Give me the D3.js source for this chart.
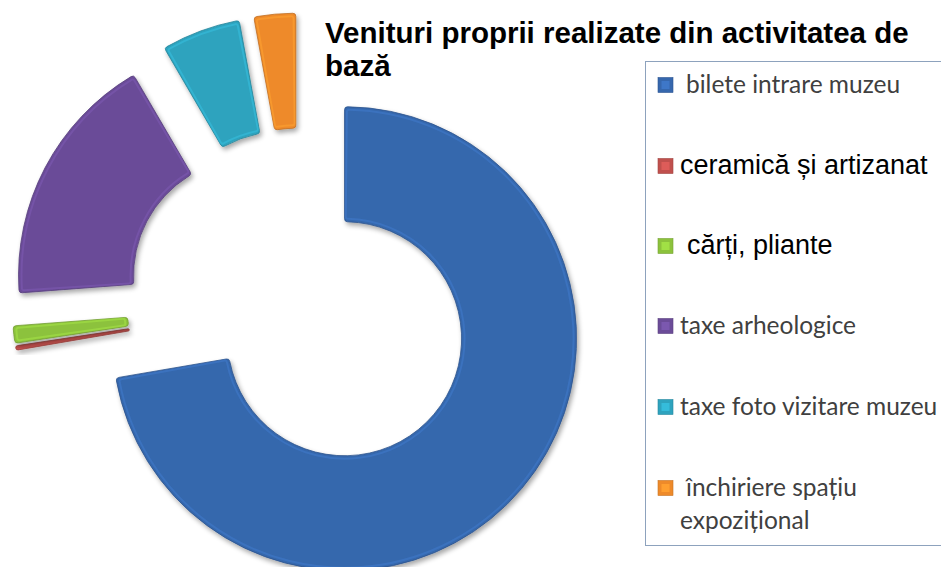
<!DOCTYPE html>
<html>
<head>
<meta charset="utf-8">
<script src="https://cdn.jsdelivr.net/npm/d3@7/dist/d3.min.js"></script>
<style>
  html, body { margin: 0; padding: 0; background: #ffffff; }
  svg { display: block; }
</style>
</head>
<body>
<svg id="chart" width="941" height="567"></svg>
<script>
// ---- data ----
const categories = [
  "bilete intrare muzeu",
  "ceramică și artizanat",
  "cărți, pliante",
  "taxe arheologice",
  "taxe foto vizitare muzeu",
  "închiriere spațiu expozițional"
];
const values = [72.3, 0.3, 1.2, 17.8, 5.5, 2.9];
const colors = ["#3667ad", "#c0504d", "#8cc23c", "#6b4c98", "#2ea3be", "#ee8a2a"];
const legendLabels = [
  ["bilete intrare muzeu"],
  ["ceramică și artizanat"],
  ["cărți, pliante"],
  ["taxe arheologice"],
  ["taxe foto vizitare muzeu"],
  ["închiriere spațiu", "expozițional"]
];
const titleLines = ["Venituri proprii realizate din activitatea de", "bază"];

// ---- layout ----
const svg = d3.select("#chart");
const cx = 301, cy = 302;
const innerR = 117, outerR = 232, explode = 57;

const defs = svg.append("defs");
const shadow = defs.append("filter").attr("id", "shadow")
  .attr("x", "-20%").attr("y", "-20%").attr("width", "140%").attr("height", "140%");
shadow.append("feGaussianBlur").attr("in", "SourceAlpha").attr("stdDeviation", 2.5).attr("result", "blur");
shadow.append("feOffset").attr("in", "blur").attr("dx", 2).attr("dy", 3).attr("result", "off");
shadow.append("feComponentTransfer").attr("in", "off").attr("result", "offa")
  .append("feFuncA").attr("type", "linear").attr("slope", 0.35);
const merge = shadow.append("feMerge");
merge.append("feMergeNode").attr("in", "offa");
merge.append("feMergeNode").attr("in", "SourceGraphic");

const pie = d3.pie().sort(null).value(d => d);
const arcs = pie(values);
const arc = d3.arc().innerRadius(innerR).outerRadius(outerR).cornerRadius(3);
const arcHi = d3.arc().innerRadius(innerR + 3).outerRadius(outerR - 3).cornerRadius(2);

const g = svg.append("g").attr("transform", `translate(${cx},${cy})`);
const slice = g.selectAll("g.slice").data(arcs).enter().append("g")
  .attr("class", "slice")
  .attr("transform", d => {
    const a = (d.startAngle + d.endAngle) / 2;
    return `translate(${explode * Math.sin(a)},${-explode * Math.cos(a)})`;
  });

slice.append("path")
  .attr("d", arc)
  .attr("fill", (d, i) => colors[i])
  .attr("stroke", (d, i) => d3.color(colors[i]).darker(0.6))
  .attr("stroke-width", 0.8)
  .attr("filter", "url(#shadow)");

slice.filter(d => (d.endAngle - d.startAngle) > 0.05).append("path")
  .attr("d", d => arcHi({startAngle: d.startAngle + 0.01, endAngle: d.endAngle - 0.01}))
  .attr("fill", "none")
  .attr("stroke", d => d3.color(colors[arcs.indexOf(d)]).brighter(0.5))
  .attr("stroke-opacity", 0.5)
  .attr("stroke-width", 2);

// ---- title ----
svg.append("g").selectAll("text").data(titleLines).enter().append("text")
  .attr("x", 325)
  .attr("y", (d, i) => 43 + i * 33)
  .attr("font-family", "'Liberation Sans', Arial, sans-serif")
  .attr("font-weight", "bold")
  .attr("font-size", 29.5)
  .attr("fill", "#000")
  .text(d => d);

// ---- legend ----
const legend = svg.append("g");
legend.append("rect")
  .attr("x", 645.5).attr("y", 61.5).attr("width", 400).attr("height", 484)
  .attr("fill", "#fff").attr("stroke", "#8da2bd").attr("stroke-width", 1);

const itemY = [85, 166, 246, 326, 407, 488];
const isArial = [false, true, true, false, false, false];
const itemX = [686, 680, 687, 680, 680, 686];

const items = legend.selectAll("g.item").data(categories).enter().append("g").attr("class", "item");
items.append("rect")
  .attr("x", 658).attr("y", (d, i) => itemY[i] - 7.5)
  .attr("width", 15).attr("height", 15)
  .attr("fill", (d, i) => colors[i])
  .attr("stroke", (d, i) => d3.color(colors[i]).darker(0.5)).attr("stroke-width", 0.6);
items.append("rect")
  .attr("x", 661.5).attr("y", (d, i) => itemY[i] - 4)
  .attr("width", 8).attr("height", 8)
  .attr("fill", (d, i) => d3.color(colors[i]).brighter(0.4));

items.each(function(d, i) {
  const t = d3.select(this).append("text")
    .attr("font-family", isArial[i] ? "'Liberation Sans', Arial, sans-serif" : "Lato, sans-serif")
    .attr("font-size", isArial[i] ? 27 : 24.5)
    .attr("fill", isArial[i] ? "#000" : "#404040");
  legendLabels[i].forEach((line, j) => {
    t.append("tspan")
      .attr("x", j === 0 ? itemX[i] : 680)
      .attr("y", itemY[i] + 8 + j * 33)
      .text(line);
  });
});
</script>
</body>
</html>
